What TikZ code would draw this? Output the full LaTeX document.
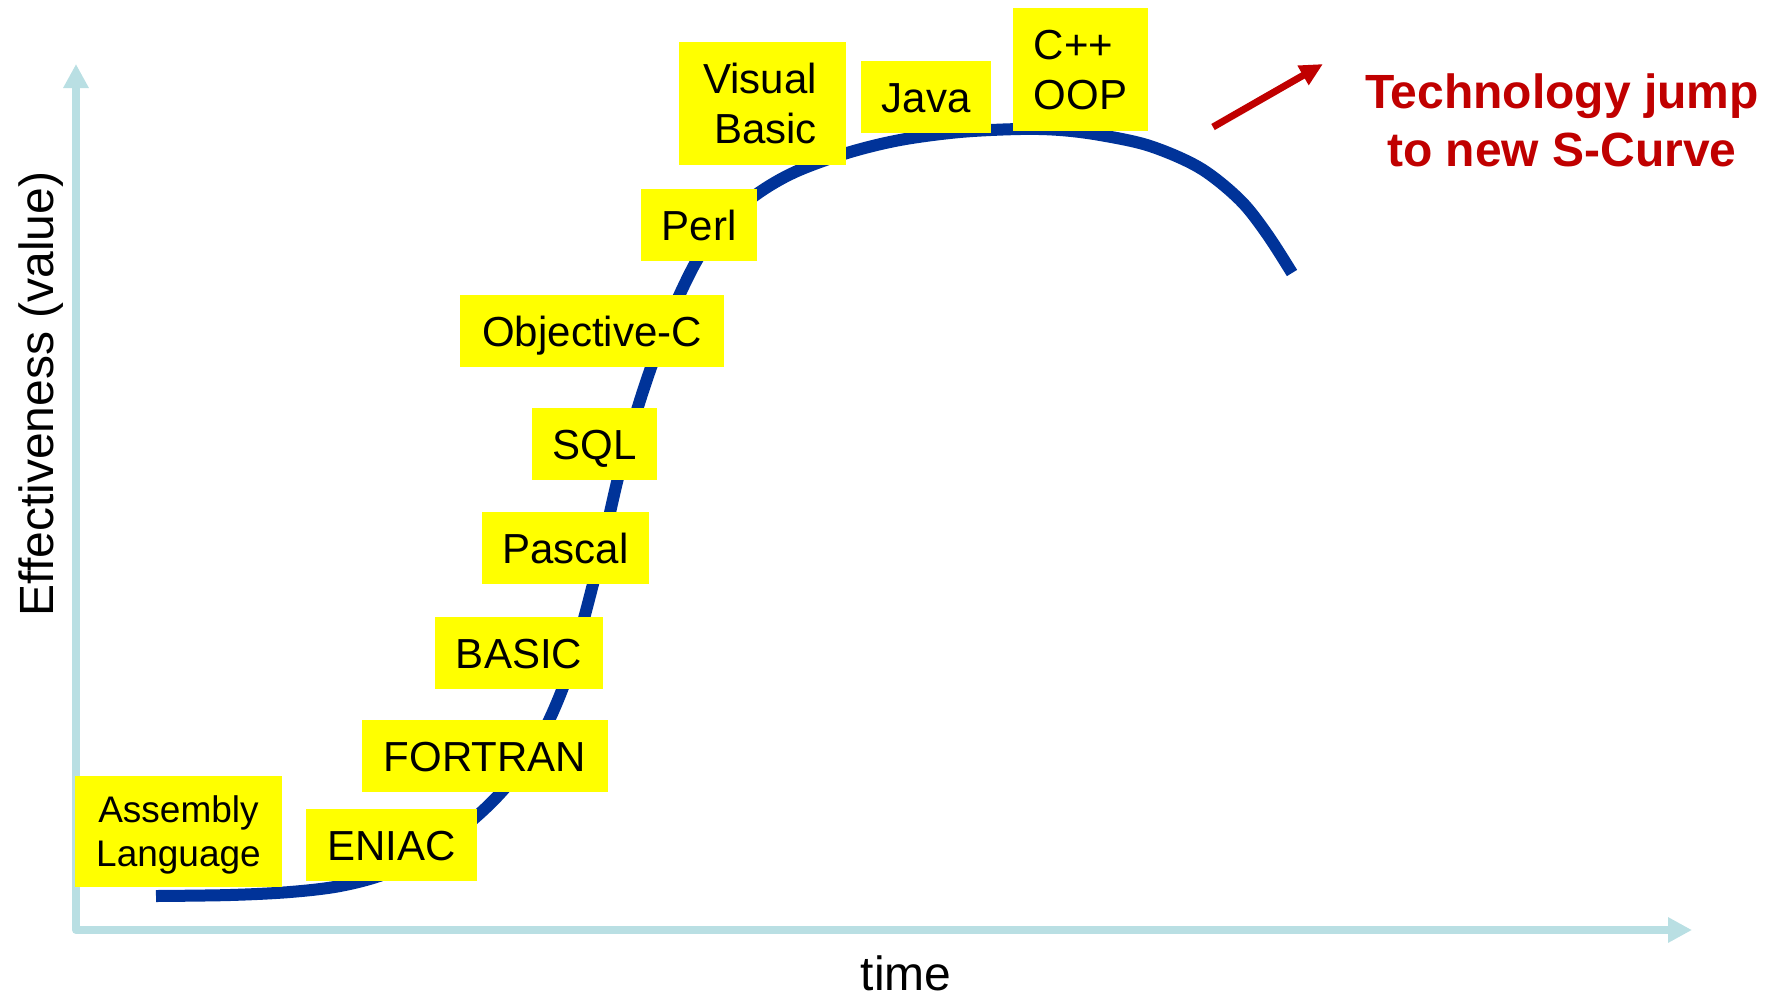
\documentclass[tikz,border=0pt]{standalone}
\usepackage{fontspec}
\setmainfont{Liberation Sans}
\usetikzlibrary{arrows.meta}
\definecolor{axisblue}{RGB}{185,223,227}
\definecolor{curveblue}{RGB}{0,51,153}
\definecolor{jumpred}{RGB}{192,0,0}
\definecolor{noteyellow}{RGB}{255,255,0}

\begin{document}
\begin{tikzpicture}[x=1pt, y=-1pt]
  \tikzstyle{every node} = [inner sep=0pt]
  \tikzset{lang/.style={fill=noteyellow, font=\fontsize{42}{50.4}\selectfont,
                        minimum height=72pt, text height=30pt, text depth=0pt},
           langtwo/.style={lang, align=center, minimum height=123pt,
                           text height=80.4pt},
           axis/.style={draw=axisblue, line width=8pt, line join=round,
                        >={Triangle[length=24pt, width=24pt]}},
           jumparrow/.style={draw=jumpred, line width=7pt,
                             -{Triangle[length=23pt, width=21pt]}},
           scurve/.style={draw=curveblue, line width=12pt}}
  \useasboundingbox (0,0) rectangle (1774,997);

\coordinate (ytop) at (76,64);
\coordinate (origin) at (76,930);
\coordinate (xend) at (1692,930);
\draw[axis, <->] (ytop) -- (origin) -- (xend);

\node[rotate=90, anchor=base, font=\fontsize{48}{57.6}\selectfont] (ylabel) at (53,394) {Effectiveness (value)};
\node[anchor=base, font=\fontsize{48}{57.6}\selectfont] (xlabel) at (906,990) {time};

\draw[scurve] plot[smooth, tension=0.55] coordinates {
  (156,896) (230,895) (290,892) (340,886) (385,874) (430,853) (477,816)
  (510,782) (540,738) (562,690) (578,640) (593,584) (606,530) (618,478)
  (631,430) (645,385) (661,340) (679,296) (700,255) (725,222) (757,194)
  (795,172) (847,153) (900,140) (960,132) (1020,129) (1060,130) (1100,135)
  (1150,146) (1200,168) (1240,200) (1267,234) (1292,273)};

\node[langtwo, font=\fontsize{37}{44.4}\selectfont, text height=70.9pt,
      minimum height=111pt, minimum width=207pt] (asm) at (178.5,831.5) {Assembly\\Language};
\node[lang, minimum width=171pt] (eniac) at (391.5,845) {ENIAC};
\node[lang, minimum width=246pt] (fortran) at (485,756) {FORTRAN};
\node[lang, minimum width=168pt] (basic) at (519,653) {BASIC};
\node[lang, minimum width=167pt] (pascal) at (565.5,548) {Pascal};
\node[lang, minimum width=125pt] (sql) at (594.5,444) {SQL};
\node[lang, minimum width=264pt] (objc) at (592,331) {Objective-C};
\node[lang, minimum width=116pt] (perl) at (699,225) {Perl};
\node[langtwo, align=right, minimum width=167pt] (vb) at (762.5,103.5) {Visual\hspace*{5pt}\\Basic\hspace*{5pt}};
\node[lang, minimum width=130pt] (java) at (926,97) {Java};
\node[langtwo, align=left, minimum width=135pt] (cpp) at (1080.5,69.5) {C++\\OOP};

\coordinate (jumpfrom) at (1213,127);
\coordinate (jumpto) at (1323,64);
\draw[jumparrow] (jumpfrom) -- (jumpto);
\node[align=center, anchor=base, text=jumpred,
      font=\bfseries\fontsize{48}{57.6}\selectfont] (jump) at (1562,166) {Technology jump\\to new S-Curve};

\end{tikzpicture}
\end{document}
